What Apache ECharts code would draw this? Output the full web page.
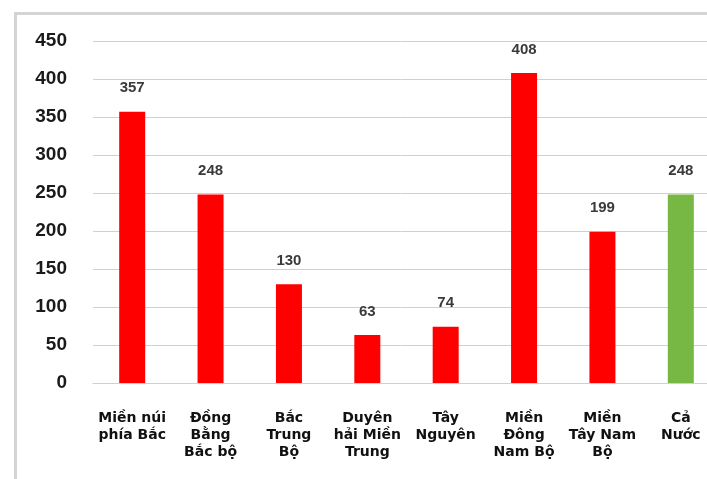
<!DOCTYPE html>
<html>
<head>
<meta charset="utf-8">
<script src="https://cdn.jsdelivr.net/npm/echarts@6/dist/echarts.min.js"></script>
<style>
  html, body { margin: 0; padding: 0; background: #fff; }
  #chart { width: 707px; height: 479px; }
</style>
</head>
<body>
<div id="chart"></div>
<script>
// Regions (x-axis categories)
const regions = [
  'Miền núi\nphía Bắc',
  'Đồng\nBằng\nBắc bộ',
  'Bắc\nTrung\nBộ',
  'Duyên\nhải Miền\nTrung',
  'Tây\nNguyên',
  'Miền\nĐông\nNam Bộ',
  'Miền\nTây Nam\nBộ',
  'Cả\nNước'
];
// Values per region
const values = [357, 248, 130, 63, 74, 408, 199, 248];
// Index of the national total bar
const totalIndex = 7;
// Y-axis ticks
const yMin = 0, yMax = 450, yStep = 50;

const chart = echarts.init(document.getElementById('chart'));

chart.setOption({
  animation: false,
  backgroundColor: '#ffffff',
  graphic: [{
    type: 'rect',
    left: 13, top: 11,
    shape: { x: 0, y: 0, width: 720, height: 500 },
    style: { fill: 'none', stroke: '#d4d4d4', lineWidth: 3 },
    silent: true
  }],
  grid: {
    left: 93, top: 41, width: 627, height: 342,
    outerBoundsMode: 'none',
    containLabel: false
  },
  xAxis: {
    type: 'category',
    data: regions,
    axisLine: { show: true, lineStyle: { color: '#d0d0d0', width: 1 } },
    axisTick: { show: false },
    axisLabel: {
      interval: 0,
      margin: 27,
      fontFamily: 'DejaVu Sans',
      fontWeight: 'bold',
      fontSize: 14,
      lineHeight: 17,
      color: '#111'
    }
  },
  yAxis: {
    type: 'value',
    min: yMin, max: yMax, interval: yStep,
    axisLine: { show: false },
    axisTick: { show: false },
    splitLine: { lineStyle: { color: '#d0d0d0', width: 1 } },
    axisLabel: {
      margin: 26,
      fontFamily: 'Liberation Sans',
      fontWeight: 'bold',
      fontSize: 19,
      color: '#1a1a1a'
    }
  },
  series: [{
    type: 'bar',
    data: values.map((v, i) => ({
      value: v,
      itemStyle: { color: i === totalIndex ? '#76b843' : '#ff0000' }
    })),
    barWidth: 26,
    label: {
      show: true,
      position: 'top',
      distance: 16,
      fontFamily: 'Liberation Sans',
      fontWeight: 'bold',
      fontSize: 15,
      color: '#3a3a3a'
    }
  }]
});
</script>
</body>
</html>
